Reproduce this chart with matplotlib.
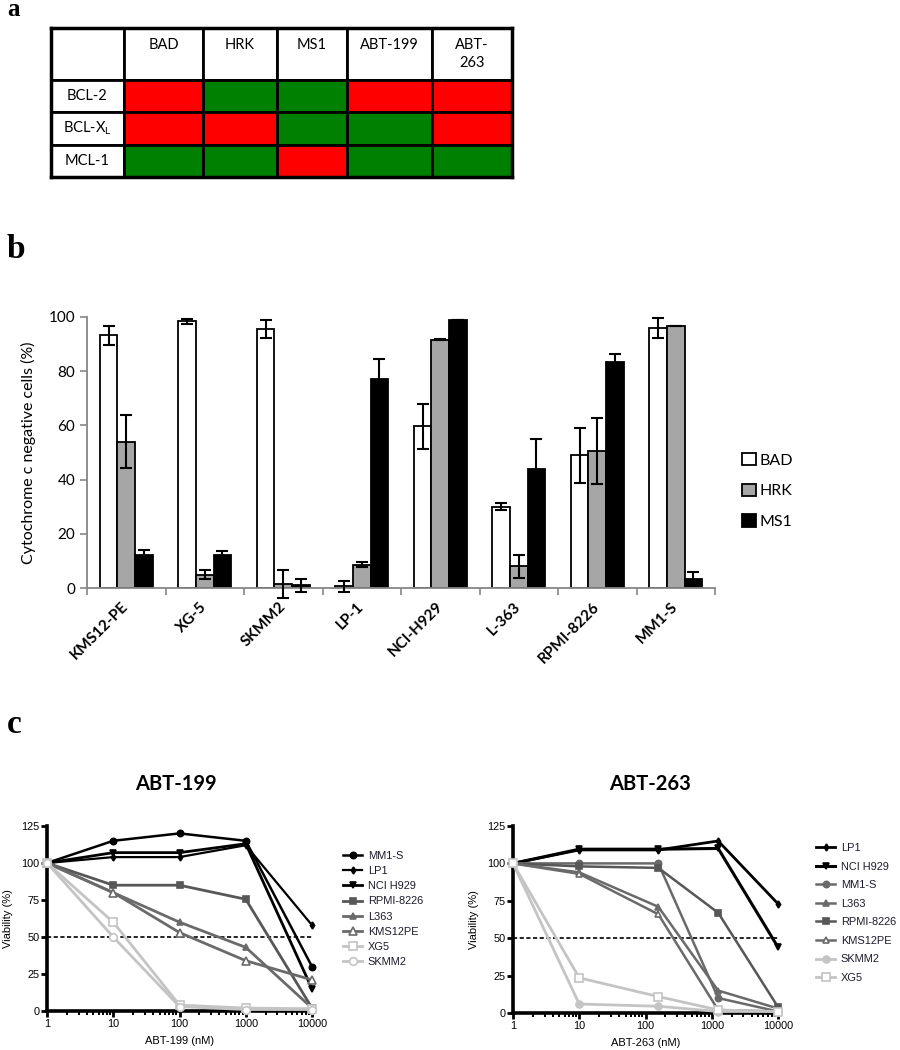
import matplotlib
matplotlib.use("Agg")
import matplotlib.pyplot as plt
import numpy as np
from matplotlib.patches import Patch

# ---------------- data ----------------
# panel a
table_cols = ["BAD\n ", "HRK\n ", "MS1\n ", "ABT-199\n ", "ABT-\n263"]
table_rows = ["BCL-2", "BCL-X$_\\mathregular{L}$", "MCL-1"]
binding = [[1, 0, 0, 1, 1],
           [1, 1, 0, 0, 1],
           [0, 0, 1, 0, 0]]

# panel b
cell_lines = ["KMS12-PE", "XG-5", "SKMM2", "LP-1", "NCI-H929", "L-363", "RPMI-8226", "MM1-S"]
bad = [93.2, 98.4, 95.6, 0.6, 59.6, 30.0, 49.0, 96.0]
bad_err = [3.5, 0.8, 3.2, 2.0, 8.3, 1.4, 10.2, 3.8]
hrk = [53.9, 4.9, 1.5, 8.6, 91.6, 8.0, 50.7, 96.7]
hrk_err = [9.8, 1.7, 5.3, 1.0, 0.1, 4.3, 12.2, 0.1]
ms1 = [12.1, 12.3, 1.0, 77.3, 99.0, 44.0, 83.4, 3.5]
ms1_err = [2.0, 1.5, 2.5, 7.3, 0.0, 10.9, 2.8, 2.3]
bar_labels = ["BAD", "HRK", "MS1"]

# panel c
abt199_conc = [1, 10, 100, 1000, 10000]
abt199_names = ["MM1-S", "LP1", "NCI H929", "RPMI-8226", "L363", "KMS12PE", "XG5", "SKMM2"]
abt199_vals = [
    [100, 115, 120, 115, 30],
    [100, 104, 104, 112, 58],
    [100, 107, 107, 113, 15],
    [100, 85, 85, 75.5, 2],
    [100, 80, 60, 43, 2],
    [100, 80, 53, 34, 21],
    [100, 60, 4, 2, 1.5],
    [100, 50, 3, 1, 1],
]
abt263_conc = [1, 10, 156, 1250, 10000]
abt263_names = ["LP1", "NCI H929", "MM1-S", "L363", "RPMI-8226", "KMS12PE", "SKMM2", "XG5"]
abt263_vals = [
    [100, 109, 109, 115, 73],
    [100, 109.5, 109.5, 110, 44],
    [100, 100, 100, 10, 1],
    [100, 94, 71, 15, 3],
    [100, 98, 97, 67, 4],
    [100, 93, 66, 2, 1],
    [100, 6, 4.5, 1, 1],
    [100, 23.5, 11, 2, 1],
]
xticks_c = [1, 10, 100, 1000, 10000]
xticklabels_c = ["1", "10", "100", "1000", "10000"]
yticks_c = [0, 25, 50, 75, 100, 125]

# ---------------- styles ----------------
plt.rcParams["font.family"] = ["Liberation Sans", "DejaVu Sans"]
plt.rcParams["mathtext.fontset"] = "custom"
plt.rcParams["mathtext.rm"] = "Lato"
W, H = 900, 1050
fig = plt.figure(figsize=(9, 10.5), dpi=100)


def fx(px):
    return px / W


def fy(py):
    return 1 - py / H


CAL = ["Lato", "DejaVu Sans"]
SERIF = ["Liberation Serif", "DejaVu Serif"]

# ---------------- panel a ----------------
fig.text(fx(7), fy(16), "a", fontsize=18, fontweight="bold", family=SERIF, va="baseline")
axa = fig.add_axes([fx(51), fy(177), fx(512) - fx(51), fy(28) - fy(177)])
axa.set_xticks([])
axa.set_yticks([])
for s in axa.spines.values():
    s.set_linewidth(2.5)
    s.set_zorder(5)
RED, GREEN = "#ff0000", "#008000"
cell_text = [[""] + table_cols]
cell_col = [["white"] * (len(table_cols) + 1)]
for r, row in enumerate(table_rows):
    cell_text.append([row] + [""] * len(table_cols))
    cell_col.append(["white"] + [RED if b else GREEN for b in binding[r]])
tab = axa.table(cellText=cell_text, cellColours=cell_col, bbox=[0, 0, 1, 1], cellLoc="center")
tab.auto_set_font_size(False)
col_w = [73, 79, 74, 70, 85, 80]
row_h = [52, 32, 33, 32]
for (r, c), cell in tab.get_celld().items():
    cell.set_width(col_w[c])
    cell.set_height(row_h[r])
    cell.set_linewidth(2.0)
    cell.set_edgecolor("black")
    cell.get_text().set_fontsize(10.5)
    cell.get_text().set_family(CAL)
    cell.get_text().set_linespacing(1.35)

# ---------------- panel b ----------------
fig.text(fx(7), fy(258), "b", fontsize=24, fontweight="bold", family=SERIF, va="baseline")
axb = fig.add_axes([fx(87), fy(588), fx(715) - fx(87), fy(317) - fy(588)])
n = len(cell_lines)
centers = np.arange(n) + 0.5
bw = 0.223
series = [(bad, bad_err, "white"), (hrk, hrk_err, "#a6a6a6"), (ms1, ms1_err, "black")]
for k, (vals, errs, colr) in enumerate(series):
    pos = centers + (k - 1) * bw
    axb.bar(pos, vals, width=bw, color=colr, edgecolor="black", linewidth=1.3,
            label=bar_labels[k], zorder=2)
    axb.errorbar(pos, vals, yerr=errs, fmt="none", ecolor="black", elinewidth=1.5,
                 capsize=4.5, capthick=1.5, zorder=3, clip_on=False)
axb.set_xlim(0, n)
axb.set_ylim(0, 100)
axb.set_yticks([0, 20, 40, 60, 80, 100])
axb.set_xticks(np.arange(n + 1))
axb.set_xticklabels([])
axb.set_xticks(centers, minor=True)
axb.set_xticklabels(cell_lines, minor=True, rotation=45, ha="right", va="center",
                    rotation_mode="anchor", fontweight="bold", family=CAL, fontsize=11)
axb.tick_params(axis="x", which="minor", length=0, pad=12)
axb.tick_params(axis="x", which="major", length=5, width=1.2, color="#868686")
axb.tick_params(axis="y", length=5, width=1.2, color="#868686", labelsize=11)
for lab in axb.get_yticklabels():
    lab.set_family(CAL)
for s in ["top", "right"]:
    axb.spines[s].set_visible(False)
for s in ["left", "bottom"]:
    axb.spines[s].set_color("#868686")
    axb.spines[s].set_linewidth(1.3)
axb.set_ylabel("Cytochrome c negative cells (%)", family=CAL, fontsize=11.5)
axb.yaxis.set_label_coords((36 - 87) / 628, 0.5)
handles_b = [Patch(facecolor=c, edgecolor="black", linewidth=1.3) for c in ["white", "#a6a6a6", "black"]]
fig.legend(handles_b, bar_labels, loc="center left", bbox_to_anchor=(fx(742), fy(491)),
           frameon=False, prop={"family": CAL, "size": 11.5}, handlelength=0.85,
           handleheight=0.85, handletextpad=0.25, labelspacing=1.0, borderpad=0, borderaxespad=0)

# ---------------- panel c ----------------
fig.text(fx(7), fy(733), "c", fontsize=24, fontweight="bold", family=SERIF, va="baseline")

BLACK = "black"
DARK = "#575757"
MID = "#6a6a6a"
LIGHT = "#c4c4c4"
style199 = {
    "MM1-S": dict(color=BLACK, marker="o", ms=4.5, mfc=BLACK, lw=1.8),
    "LP1": dict(color=BLACK, marker="d", ms=3.5, mfc=BLACK, lw=1.6),
    "NCI H929": dict(color=BLACK, marker="v", ms=4.5, mfc=BLACK, lw=2.0),
    "RPMI-8226": dict(color=DARK, marker="s", ms=4.5, mfc=DARK, lw=2.0),
    "L363": dict(color=MID, marker="^", ms=4.5, mfc=MID, lw=2.0),
    "KMS12PE": dict(color=MID, marker="^", ms=5.5, mfc="white", lw=2.0),
    "XG5": dict(color=LIGHT, marker="s", ms=6, mfc="white", lw=2.0),
    "SKMM2": dict(color=LIGHT, marker="o", ms=5.5, mfc="white", lw=2.0),
}
style263 = {
    "LP1": dict(color=BLACK, marker="d", ms=3.5, mfc=BLACK, lw=2.0),
    "NCI H929": dict(color=BLACK, marker="v", ms=4.5, mfc=BLACK, lw=2.2),
    "MM1-S": dict(color=MID, marker="o", ms=4.5, mfc=MID, lw=1.8),
    "L363": dict(color=MID, marker="^", ms=4.5, mfc=MID, lw=1.8),
    "RPMI-8226": dict(color=DARK, marker="s", ms=4.5, mfc=DARK, lw=1.8),
    "KMS12PE": dict(color=MID, marker="^", ms=5, mfc="white", lw=1.8),
    "SKMM2": dict(color=LIGHT, marker="o", ms=5, mfc=LIGHT, lw=2.0),
    "XG5": dict(color=LIGHT, marker="s", ms=5.5, mfc="white", lw=2.0),
}
LEGTXT = "#1c1c2c"


def dose_panel(rect, conc, names, vals, styles, xlabel, title, title_x, leg_anchor, spacing):
    ax = fig.add_axes(rect)
    handles = []
    for name, v in zip(names, vals):
        st = styles[name]
        ln, = ax.plot(conc, v, color=st["color"], marker=st["marker"], ms=st["ms"],
                      mfc=st["mfc"], mec=st["color"], mew=1.2, lw=st["lw"],
                      clip_on=False, zorder=3, label=name)
        handles.append(ln)
    ax.axhline(50, color="black", lw=1.2, ls=(0, (2.5, 1.5)), zorder=2)
    ax.set_xscale("log")
    ax.set_xlim(1, 10000)
    ax.set_ylim(0, 125)
    ax.set_xticks(xticks_c)
    ax.set_xticklabels(xticklabels_c)
    ax.set_yticks(yticks_c)
    ax.tick_params(axis="both", which="major", length=4, width=2.0, labelsize=7.8, pad=1.5)
    ax.tick_params(axis="x", which="minor", length=3, width=1.4)
    for s in ["top", "right"]:
        ax.spines[s].set_visible(False)
    for s in ["left", "bottom"]:
        ax.spines[s].set_linewidth(2.6)
    ax.set_xlabel(xlabel, fontsize=8, labelpad=5)
    ax.set_ylabel("Viability (%)", fontsize=8)
    ax.yaxis.set_label_coords(-0.128, 0.5)
    fig.text(fx(title_x), fy(790), title, ha="center", va="baseline", fontsize=14.5,
             fontweight="bold", family=CAL)
    leg = fig.legend(handles=handles, loc="upper left", bbox_to_anchor=leg_anchor,
                     frameon=False, fontsize=7.9, handlelength=1.75, handletextpad=0.5,
                     labelspacing=spacing, borderpad=0, borderaxespad=0)
    for t in leg.get_texts():
        t.set_color(LEGTXT)
    return ax


dose_panel([fx(47), fy(1011), fx(312) - fx(47), fy(826) - fy(1011)], abt199_conc, abt199_names,
           abt199_vals, style199, "ABT-199 (nM)", "ABT-199", 176, (fx(343), fy(851)), 0.47)
dose_panel([fx(513), fy(1013), fx(778) - fx(513), fy(826) - fy(1013)], abt263_conc, abt263_names,
           abt263_vals, style263, "ABT-263 (nM)", "ABT-263", 650, (fx(816), fy(843)), 0.78)

fig.savefig("out.png", dpi=100)
